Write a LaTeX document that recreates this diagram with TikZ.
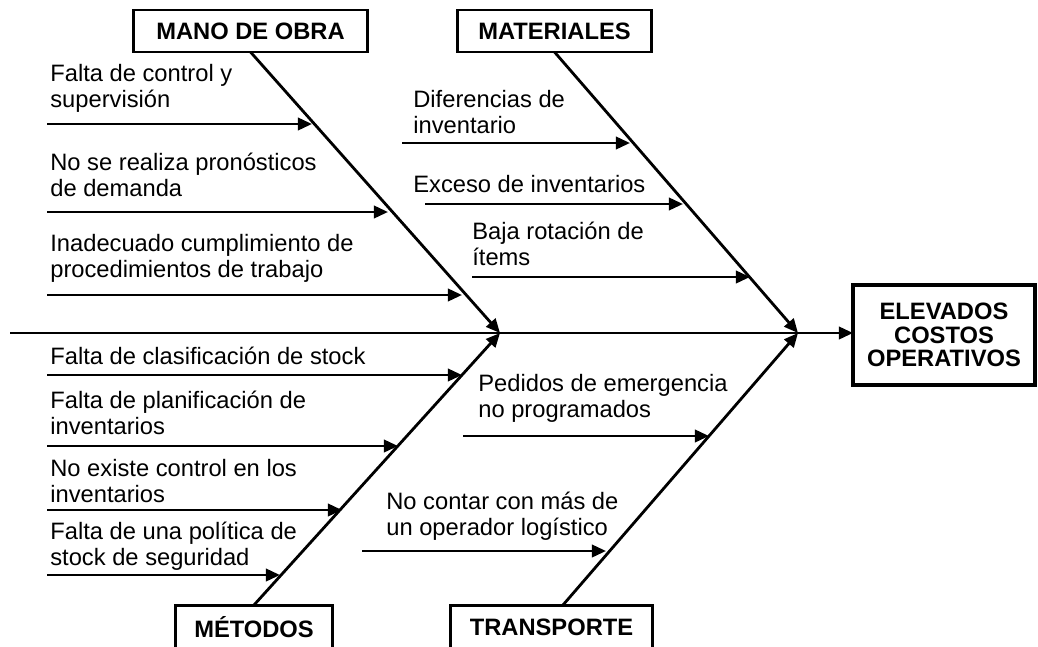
\documentclass[tikz,border=0pt]{standalone}
\usepackage{fontspec}
\setmainfont{Liberation Sans}
\usetikzlibrary{arrows.meta}

\begin{document}
\begin{tikzpicture}[x=0.02cm,y=-0.02cm,
  categoria/.style={draw,line width=1.7pt,inner sep=0,outer sep=0,minimum height=0.84cm,
    font=\fontsize{13.5}{14}\selectfont\bfseries},
  efecto/.style={draw,line width=2.8pt,inner sep=0,outer sep=0,minimum width=3.64cm,minimum height=2cm,
    align=center,font=\fontsize{13.5}{13.4}\selectfont\bfseries},
  causa/.style={anchor=west,inner sep=0,align=left,font=\fontsize{13.5}{14.8}\selectfont},
  flecha/.style={line width=1.6pt,-{Triangle[length=8pt,width=7pt]}}]
\useasboundingbox (0,0) rectangle (1038,646);

% categorias y efecto
\node [categoria,minimum width=4.7cm] (mano) at (250.5,31) {MANO DE OBRA};
\node [categoria,minimum width=3.9cm] (mat) at (554.5,31) {MATERIALES};
\node [categoria,minimum width=3.16cm,minimum height=0.9cm] (met) at (254,627.5) {MÉTODOS};
\node [categoria,minimum width=4.06cm,minimum height=0.9cm] (tra) at (551.5,627.5) {TRANSPORTE};
\node [efecto] (efe) at (944,335) {ELEVADOS\\COSTOS\\OPERATIVOS};

% espina principal
\coordinate (s0) at (10,333);
\coordinate (j1) at (500,333);
\coordinate (j2) at (798,333);
\coordinate (t0) at (563,605);
\draw [flecha] (s0) -- (s0 -| efe.west);
\draw [flecha] (mano.south) -- (j1);
\draw [flecha] (met.north) -- (j1);
\draw [flecha] (mat.south) -- (j2);
\draw [flecha] (t0) -- (j2);

% causas
\foreach \i/\xs/\xe/\y in {1/47/312/124, 2/47/388/212, 3/47/462/295,
  4/402/630/143, 5/425/683/204, 6/472/750/277,
  7/47/462/375, 8/47/398/446, 9/47/342/510, 10/47/280/575,
  11/463/709/436, 12/362/606/551}
{ \coordinate (a\i) at (\xs,\y);
  \coordinate (b\i) at (\xe,\y);
  \draw [flecha] (a\i) -- (b\i);}

\node [causa] (c1) at (50,88) {Falta de control y\\supervisión};
\node [causa] (c2) at (50,175) {No se realiza pronósticos\\de demanda};
\node [causa] (c3) at (50,258) {Inadecuado cumplimiento de\\procedimientos de trabajo};
\node [causa] (c4) at (413,112) {Diferencias de\\inventario};
\node [causa] (c5) at (413,184) {Exceso de inventarios};
\node [causa] (c6) at (472,244) {Baja rotación de\\ítems};
\node [causa] (c7) at (50,356) {Falta de clasificación de stock};
\node [causa] (c8) at (50,413) {Falta de planificación de\\inventarios};
\node [causa] (c9) at (50,481) {No existe control en los\\inventarios};
\node [causa] (c10) at (50,546) {Falta de una política de\\stock de seguridad};
\node [causa] (c11) at (478,398) {Pedidos de emergencia\\no programados};
\node [causa] (c12) at (386,516) {No contar con más de\\un operador logístico};
\end{tikzpicture}
\end{document}
